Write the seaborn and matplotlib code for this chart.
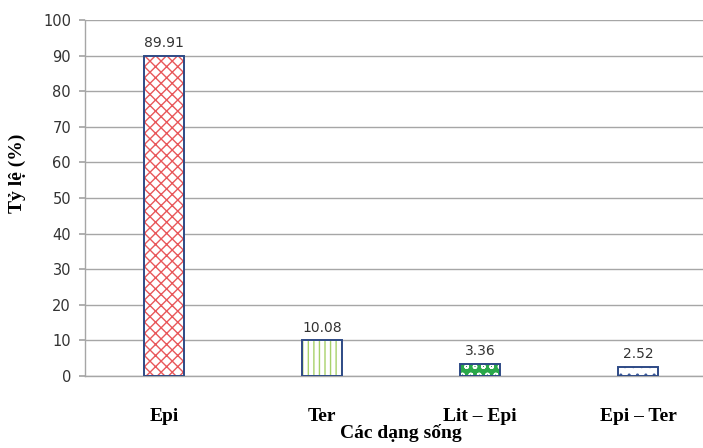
import matplotlib
matplotlib.use("Agg")
import matplotlib.pyplot as plt
from matplotlib.patches import Rectangle
import pandas as pd
import seaborn as sns

# ── Data ──────────────────────────────────────────────────────────────────────
categories = ["Epi", "Ter", "Lit – Epi", "Epi – Ter"]
values = [89.91, 10.08, 3.36, 2.52]
value_labels = ["89.91", "10.08", "3.36", "2.52"]

# face, hatch colour, hatch pattern per bar
faces = ["white", "white", "#2aa84a", "white"]
hatch_cols = ["#e8575a", "#a8d26a", "white", "#3b5a9a"]
hatches = ["xxx", "|||", "oo", ".."]
EDGE = "#2e4a86"
GRID = "#a6a6a6"

sns.set_theme(style="white")
plt.rcParams["hatch.linewidth"] = 1.0

df = pd.DataFrame({"Dạng sống": categories, "Tỷ lệ": values})

fig = plt.figure(figsize=(7.03, 4.48), dpi=100)
ax = fig.add_axes([85 / 703, 1 - 376 / 448, 632 / 703, (376 - 20) / 448])

sns.barplot(data=df, x="Dạng sống", y="Tỷ lệ", order=categories,
            width=0.253, color="white", ax=ax, zorder=3)

for p, fc, hc, h in zip(ax.patches, faces, hatch_cols, hatches):
    p.set_facecolor(fc)
    p.set_edgecolor(hc)
    p.set_hatch(h)
    p.set_linewidth(0)
    ax.add_patch(Rectangle(p.get_xy(), p.get_width(), p.get_height(),
                           fill=False, edgecolor=EDGE, linewidth=1.4, zorder=4))

for i, (v, s) in enumerate(zip(values, value_labels)):
    ax.annotate(s, xy=(i, v), xytext=(0, 4), textcoords="offset points",
                ha="center", va="bottom", fontsize=10, color="#333333",
                family="DejaVu Sans")

ax.set_ylim(0, 100)
ax.set_yticks(range(0, 101, 10))
ax.set_xlim(-0.5, 3.5)
ax.yaxis.grid(True, color=GRID, linewidth=1.0, zorder=0)
ax.set_axisbelow(True)
for s in ["top", "right"]:
    ax.spines[s].set_visible(False)
for s in ["left", "bottom"]:
    ax.spines[s].set_color(GRID)
    ax.spines[s].set_linewidth(1.0)

ax.tick_params(axis="y", left=True, length=4, color=GRID, labelsize=10.5,
               labelcolor="#333333", pad=6)
ax.tick_params(axis="x", bottom=False, pad=17)
for t in ax.get_xticklabels():
    t.set_family("Liberation Serif")
    t.set_fontweight("bold")
    t.set_fontsize(14)
    t.set_color("black")

ax.set_xlabel("Các dạng sống", family="Liberation Serif", fontweight="bold",
              fontsize=14, color="black", labelpad=-1)
ax.set_ylabel("Tỷ lệ (%)", family="Liberation Serif", fontweight="bold",
              fontsize=14, color="black")
ax.yaxis.set_label_coords(-0.093, 0.57)

fig.savefig("out.png", dpi=100)
